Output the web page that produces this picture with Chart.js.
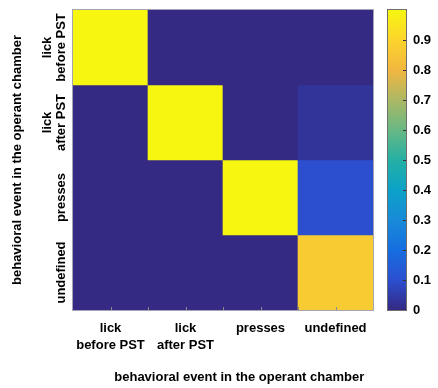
<!DOCTYPE html>
<html lang="en">
<head>
<meta charset="UTF-8">
<title>Behavioral events</title>
<script src="https://cdn.jsdelivr.net/npm/chart.js"></script>
<style>
  body { margin: 0; background: #fff; }
</style>
</head>
<body>
<canvas id="cm" width="438" height="388"></canvas>
<script>
// event categories, same order on both axes
const events = [['lick', 'before PST'], ['lick', 'after PST'], 'presses', 'undefined'];
// one row per event on the vertical axis, one column per event on the horizontal axis
const fractions = [
  [1, 0, 0, 0],
  [0, 1, 0, 0.03],
  [0, 0, 1, 0.10],
  [0, 0, 0, 0.87]
];
const barTicks = [0, 0.1, 0.2, 0.3, 0.4, 0.5, 0.6, 0.7, 0.8, 0.9];
const barRange = [0, 1];

// parula-like colour stops
const stops = [
  [0.0, [52, 41, 131]],
  [0.1, [44, 79, 208]],
  [0.2, [22, 110, 224]],
  [0.3, [24, 138, 216]],
  [0.4, [12, 162, 200]],
  [0.5, [36, 176, 164]],
  [0.6, [104, 184, 132]],
  [0.7, [172, 184, 100]],
  [0.8, [242, 182, 64]],
  [0.9, [252, 212, 44]],
  [1.0, [246, 246, 16]]
];

function colorOf(v) {
  const t = (v - barRange[0]) / (barRange[1] - barRange[0]);
  for (let i = 1; i < stops.length; i++) {
    if (t <= stops[i][0]) {
      const [p0, c0] = stops[i - 1];
      const [p1, c1] = stops[i];
      const f = (t - p0) / (p1 - p0);
      const c = c0.map((a, k) => Math.round(a + (c1[k] - a) * f));
      return `rgb(${c[0]},${c[1]},${c[2]})`;
    }
  }
  const c = stops[stops.length - 1][1];
  return `rgb(${c[0]},${c[1]},${c[2]})`;
}

const fnt = { family: "'Liberation Sans', Arial, sans-serif", size: 13, weight: 'bold' };
const noGrid = { display: false, drawTicks: false };

// fixed scale sizes so the matrix area stays square
function fixSize(w, h) {
  return s => {
    if (w !== null) s.width = w;
    if (h !== null) s.height = h;
    s.paddingTop = 0;
    s.paddingBottom = 0;
    s.paddingLeft = 0;
    s.paddingRight = 0;
  };
}

// colour bar, frame and small ticks on the bottom edge
const colorbar = {
  id: 'colorbar',
  afterDraw(chart) {
    const ctx = chart.ctx;
    const ca = chart.chartArea;
    const sc = chart.scales.cb;
    ctx.save();

    ctx.strokeStyle = '#a4a4b4';
    ctx.lineWidth = 1;
    ctx.strokeRect(ca.left - 0.5, ca.top - 0.5, ca.right - ca.left + 1, ca.bottom - ca.top + 1);

    ctx.strokeStyle = '#8a8a8a';
    const step = (ca.right - ca.left) / (events.length * 2);
    ctx.beginPath();
    for (let k = 1; k < events.length * 2; k++) {
      const x = Math.round(ca.left + k * step) + 0.5;
      ctx.moveTo(x, ca.bottom);
      ctx.lineTo(x, ca.bottom - 3);
    }
    ctx.stroke();

    const x0 = sc.left + 15, x1 = sc.left + 33;
    const yLo = sc.getPixelForValue(barRange[0]);
    const yHi = sc.getPixelForValue(barRange[1]);
    const grad = ctx.createLinearGradient(0, yLo, 0, yHi);
    stops.forEach(([p, c]) => grad.addColorStop(p, `rgb(${c[0]},${c[1]},${c[2]})`));
    ctx.fillStyle = grad;
    ctx.fillRect(x0, yHi, x1 - x0, yLo - yHi);
    ctx.strokeStyle = '#6e6e6e';
    ctx.strokeRect(x0 - 0.5, yHi - 0.5, x1 - x0 + 1, yLo - yHi + 1);

    ctx.strokeStyle = '#333';
    ctx.beginPath();
    barTicks.slice(1).forEach(v => {
      const y = Math.round(sc.getPixelForValue(v)) + 0.5;
      ctx.moveTo(x1, y);
      ctx.lineTo(x1 - 3, y);
    });
    ctx.stroke();
    ctx.restore();
  }
};

new Chart(document.getElementById('cm'), {
  type: 'bar',
  data: {
    labels: events,
    datasets: fractions.map(row => ({
      data: row.map(() => 1),
      backgroundColor: row.map(colorOf),
      borderWidth: 0,
      barPercentage: 1,
      categoryPercentage: 1
    }))
  },
  options: {
    responsive: false,
    animation: false,
    layout: { padding: { top: 10 } },
    plugins: { legend: { display: false }, tooltip: { enabled: false } },
    scales: {
      x: {
        stacked: true,
        grid: noGrid,
        border: { display: false },
        ticks: {
          color: '#000',
          font: { ...fnt, lineHeight: 17 / 13 },
          padding: 9.5,
          maxRotation: 0,
          autoSkip: false
        },
        title: {
          display: true,
          text: '         behavioral event in the operant chamber',
          color: '#000',
          font: fnt,
          padding: { top: 0, bottom: 3 }
        },
        afterFit: fixSize(null, 78)
      },
      y: {
        stacked: true,
        reverse: true,
        min: 0,
        max: events.length,
        grid: noGrid,
        border: { display: false },
        afterBuildTicks: s => { s.ticks = events.map((e, i) => ({ value: i + 0.5 })); },
        ticks: {
          color: '#000',
          font: { ...fnt, lineHeight: 13.5 / 13 },
          callback: (v, i) => Array.isArray(events[i]) ? events[i] : ['', events[i]],
          minRotation: 90,
          maxRotation: 90,
          crossAlign: 'center',
          padding: -15.5
        },
        title: {
          display: true,
          text: 'behavioral event in the operant chamber',
          color: '#000',
          font: fnt,
          padding: { top: 10, bottom: 0 }
        },
        afterFit: fixSize(73, null)
      },
      cb: {
        type: 'linear',
        position: 'right',
        min: barRange[0],
        max: barRange[1],
        grid: noGrid,
        border: { display: false },
        afterBuildTicks: s => { s.ticks = barTicks.map(v => ({ value: v })); },
        ticks: {
          color: '#000',
          font: fnt,
          padding: 40,
          callback: v => v === 0 ? '0' : v.toFixed(1)
        },
        afterFit: fixSize(65, null)
      }
    }
  },
  plugins: [colorbar]
});
</script>
</body>
</html>
